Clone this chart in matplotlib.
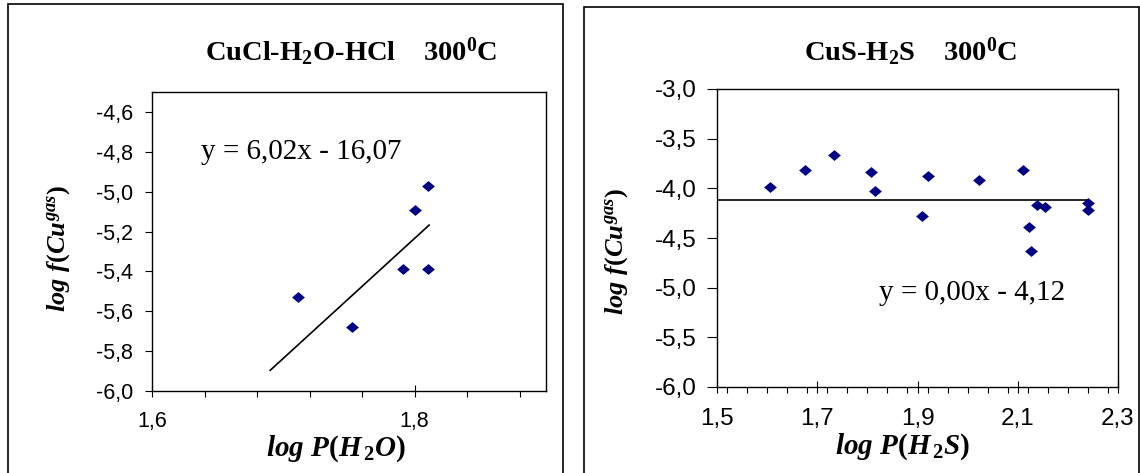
import matplotlib
matplotlib.use('Agg')
import matplotlib.pyplot as plt
from matplotlib.patches import Rectangle
from matplotlib.ticker import FixedLocator, MultipleLocator
import numpy as np

plt.rcParams['mathtext.fontset'] = 'custom'
plt.rcParams['mathtext.rm'] = 'Liberation Serif:bold'
plt.rcParams['mathtext.it'] = 'Liberation Serif:italic:bold'
plt.rcParams['mathtext.bf'] = 'Liberation Serif:bold'

# CuCl-H2O-HCl, 300 C
x_h2o = [1.711, 1.752, 1.791, 1.800, 1.810, 1.810]
y_h2o = [-5.53, -5.68, -5.39, -5.09, -4.97, -5.39]
fit_h2o = (6.02, -16.07)
fit_h2o_x = [1.69, 1.811]
yt_h2o = [-6.0, -5.8, -5.6, -5.4, -5.2, -5.0, -4.8, -4.6]
xt_h2o = [1.6, 1.8]

# CuS-H2S, 300 C
x_h2s = [1.605, 1.676, 1.733, 1.808, 1.816, 1.909, 1.920, 2.022,
         2.111, 2.122, 2.127, 2.138, 2.154, 2.240, 2.240]
y_h2s = [-3.99, -3.82, -3.66, -3.84, -4.03, -4.28, -3.88, -3.92,
         -3.82, -4.39, -4.63, -4.17, -4.19, -4.15, -4.22]
fit_h2s = (0.00, -4.12)
fit_h2s_x = [1.5, 2.24]
yt_h2s = [-6.0, -5.5, -5.0, -4.5, -4.0, -3.5, -3.0]
xt_h2s = [1.5, 1.7, 1.9, 2.1, 2.3]

W, H = 1140, 473
fig = plt.figure(figsize=(W / 100, H / 100), dpi=100)

def px(l, t, r, b):
    return [l / W, 1 - b / H, (r - l) / W, (b - t) / H]

def fx(x, y):
    return x / W, 1 - y / H

# outer chart frames
for l, t, r in [(8, 4, 563), (584, 7, 1139)]:
    fig.patches.append(Rectangle(fx(l, 490), (r - l) / W, (490 - t) / H,
                                 transform=fig.transFigure, fill=False,
                                 lw=1.2, ec='black', clip_on=False))

diamond = [(-1, 0), (0, 0.85), (1, 0), (0, -0.85)]
comma = lambda v: ('%.1f' % v).replace('.', ',')

def panel(rect, xs, ys, fit, fitx, xlim, ylim, xt, yt, minor, tsize, ylen, ypad, xpad):
    ax = fig.add_axes(rect)
    ax.scatter(xs, ys, marker=diamond, s=85, c='#000080', lw=0, zorder=3)
    fx_ = np.array(fitx)
    ax.plot(fx_, fit[0] * fx_ + fit[1], color='black', lw=1.2)
    ax.set_xlim(*xlim)
    ax.set_ylim(*ylim)
    ax.xaxis.set_major_locator(FixedLocator(xt))
    ax.yaxis.set_major_locator(FixedLocator(yt))
    ax.set_xticklabels([comma(v) for v in xt])
    ax.set_yticklabels([comma(v) for v in yt])
    ax.xaxis.set_minor_locator(MultipleLocator(minor))
    ax.tick_params(axis='both', which='both', labelsize=tsize,
                   labelfontfamily='Liberation Sans')
    ax.tick_params(axis='y', direction='out', length=ylen, width=0.8, pad=ypad)
    ax.tick_params(axis='x', which='major', direction='inout', length=8, width=0.8, pad=xpad)
    ax.tick_params(axis='x', which='minor', direction='out', length=4, width=0.8)
    for s in ax.spines.values():
        s.set_linewidth(1.0)
    return ax

panel(px(152, 92, 546, 391), x_h2o, y_h2o, fit_h2o, fit_h2o_x,
      (1.6, 1.9), (-6.0, -4.5), xt_h2o, yt_h2o, 0.04, 15.5, 5, 8.5, 10.5)
panel(px(717, 89, 1118, 387), x_h2s, y_h2s, fit_h2s, fit_h2s_x,
      (1.5, 2.3), (-6.0, -3.0), xt_h2s, yt_h2s, 0.04, 17.5, 7, 7.5, 11)

serif = 'Liberation Serif'
fig.text(*fx(351, 52), r'CuCl-H$_2$O-HCl    300$^0$C', family=serif,
         weight='bold', size=20.5, ha='center', va='center')
fig.text(*fx(911, 52), r'CuS-H$_2$S    300$^0$C', family=serif,
         weight='bold', size=20.5, ha='center', va='center')

fig.text(*fx(301, 152), 'y = 6,02x - 16,07', family=serif, size=21,
         ha='center', va='center')
fig.text(*fx(972, 293), 'y = 0,00x - 4,12', family=serif, size=21,
         ha='center', va='center')

ylab = r'$log\ f(Cu^{gas})$'
fig.text(*fx(59, 248), ylab, size=19, rotation=90, ha='center', va='center')
fig.text(*fx(617, 251), ylab, size=19, rotation=90, ha='center', va='center')
fig.text(*fx(336, 449), r'$log\ P(H_{\,2}O)$', size=21, ha='center', va='center')
fig.text(*fx(903, 447), r'$log\ P(H_{\,2}S)$', size=21, ha='center', va='center')

fig.savefig('out.png', dpi=100)
